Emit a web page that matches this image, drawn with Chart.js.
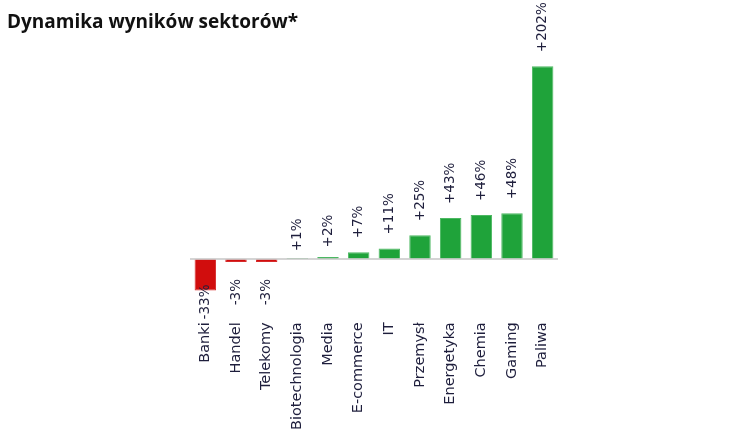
<!DOCTYPE html>
<html>
<head>
<meta charset="utf-8">
<script src="https://cdn.jsdelivr.net/npm/chart.js@4"></script>
<style>
  body { margin: 0; background: #fff; }
  #wrap { position: relative; width: 750px; height: 442px; }
  #title {
    position: absolute; left: 7px; top: 8px;
    font-family: "Open Sans", sans-serif; font-weight: 700; font-size: 19px;
    color: #111;
  }
</style>
</head>
<body>
<div id="wrap">
  <div id="title">Dynamika wyników sektorów*</div>
  <canvas id="chart" width="750" height="442"></canvas>
</div>
<script>
// dane
var sectors = ["Banki", "Handel", "Telekomy", "Biotechnologia", "Media", "E-commerce", "IT", "Przemysł", "Energetyka", "Chemia", "Gaming", "Paliwa"];
var growth = [-33, -3, -3, 1, 2, 7, 11, 25, 43, 46, 48, 202];
var growthLabels = ["-33%", "-3%", "-3%", "+1%", "+2%", "+7%", "+11%", "+25%", "+43%", "+46%", "+48%", "+202%"];

// etykiety wartosci obrócone o 90 stopni + linia zera
var valueLabels = {
  id: 'valueLabels',
  afterDatasetsDraw: function(chart) {
    var ctx = chart.ctx;
    var area = chart.chartArea;
    var zero = chart.scales.y.getPixelForValue(0);
    ctx.save();
    ctx.strokeStyle = 'rgba(205,205,205,0.85)';
    ctx.lineWidth = 2;
    ctx.beginPath();
    ctx.moveTo(area.left, zero);
    ctx.lineTo(area.right, zero);
    ctx.stroke();

    ctx.font = '13.5px "DejaVu Sans", sans-serif';
    ctx.fillStyle = '#1e1e3c';
    ctx.textBaseline = 'middle';
    chart.getDatasetMeta(0).data.forEach(function(bar, i) {
      var y;
      ctx.save();
      if (growth[i] >= 0) {
        var h = zero - bar.y;
        y = bar.y - Math.min(14, 4 + 3 * h);
        ctx.translate(bar.x, y);
        ctx.rotate(-Math.PI / 2);
        ctx.textAlign = 'left';
      } else {
        // ujemne: pod słupkiem, ale nie dalej niż etykiety kategorii
        y = Math.max(bar.y - 6, zero + 20);
        ctx.translate(bar.x, y);
        ctx.rotate(-Math.PI / 2);
        ctx.textAlign = 'right';
      }
      ctx.fillText(growthLabels[i], 0, 0);
      ctx.restore();
    });
    ctx.restore();
  }
};

var ctx = document.getElementById('chart').getContext('2d');
var myChart = new Chart(ctx, {
  type: 'bar',
  data: {
    labels: sectors,
    datasets: [{
      data: growth,
      backgroundColor: growth.map(function(v) { return v < 0 ? '#d10d0d' : '#1fa33a'; }),
      borderColor: growth.map(function(v) { return v < 0 ? '#d62a2a' : '#4cb862'; }),
      borderWidth: 1,
      barPercentage: 0.7,
      categoryPercentage: 1
    }]
  },
  options: {
    responsive: false,
    animation: false,
    layout: { padding: { top: 49, left: 190, right: 192, bottom: 6 } },
    plugins: {
      legend: { display: false },
      tooltip: { enabled: false }
    },
    scales: {
      y: { display: false, min: -60, max: 220 },
      x: {
        grid: { display: false, drawTicks: false },
        border: { display: false },
        ticks: {
          minRotation: 90,
          maxRotation: 90,
          padding: 6,
          color: '#1e1e3c',
          font: { family: 'DejaVu Sans', size: 14.5 }
        }
      }
    }
  },
  plugins: [valueLabels]
});
</script>
</body>
</html>
